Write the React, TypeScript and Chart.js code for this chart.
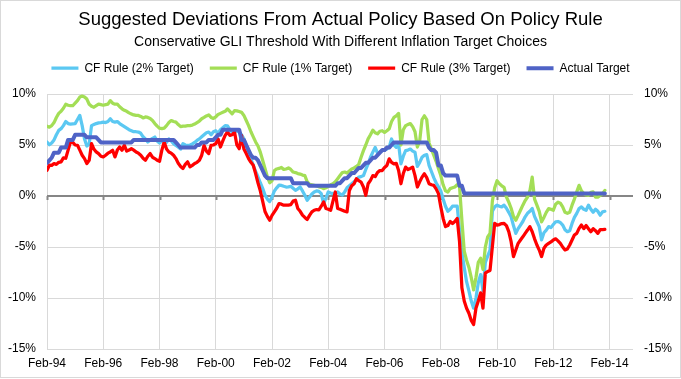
import { useEffect, useRef } from 'react';
import { Chart, registerables } from 'chart.js';

Chart.register(...registerables);

// Monthly observations, Feb-94 (index 0) through Dec-13
const tickLabels = ['Feb-94', 'Feb-96', 'Feb-98', 'Feb-00', 'Feb-02', 'Feb-04', 'Feb-06', 'Feb-08', 'Feb-10', 'Feb-12', 'Feb-14'];
const yTicks = [-15, -10, -5, 0, 5, 10];

const seriesNames = ['CF Rule (2% Target)', 'CF Rule (1% Target)', 'CF Rule (3% Target)', 'Actual Target'];

const cfRule2 = [
  5.3, 5.03, 5.2, 5.5, 6.0, 6.43, 6.6, 6.9, 7.3, 7.1, 7.05,
  7.08, 7.1, 7.5, 7.9, 6.9, 5.6, 4.9, 5.1, 6.9, 7.0, 7.1, 7.17,
  7.2, 7.24, 7.2, 7.3, 7.57, 7.3, 7.24, 7.3, 7.1, 6.95, 6.8, 6.65,
  6.5, 6.4, 6.3, 6.3, 6.27, 6.15, 5.8, 5.6, 5.3, 5.5, 5.65, 5.78,
  5.4, 5.2, 5.4, 5.35, 5.26, 5.6, 5.4, 5.13, 4.95, 4.8, 4.6, 5.13,
  5.0, 4.97, 5.0, 5.1, 5.25, 5.45, 5.6, 5.8, 6.0, 6.2, 6.27, 6.0,
  6.3, 6.4, 6.14, 6.5, 6.7, 6.9, 6.88, 6.5, 6.27, 6.45, 6.35, 6.27,
  6.0, 5.6, 4.9, 4.16, 3.6, 3.02, 2.4, 1.89, 1.3, 0.75, 0.1, -0.3,
  -0.55, -0.1, 0.5, 0.8, 1.07, 1.04, 0.95, 0.88, 0.9, 0.95, 0.75, 0.55,
  0.7, 0.88, 0.5, 0.07, -0.42, -0.1, 0.2, 0.4, 0.5, 0.45, 0.23, -0.74,
  -0.2, 0.4, 0.3, 0.23, 0.3, 0.4, 0.2, 0.1, 0.4, 0.8, 1.0, 1.2,
  1.4, 1.6, 1.85, 1.9, 2.0, 2.6, 3.15, 3.8, 4.3, 4.77, 4.2, 4.3,
  4.45, 4.5, 4.6, 4.8, 5.59, 5.0, 4.77, 5.1, 3.15, 3.9, 4.45, 4.5,
  4.6, 4.4, 4.3, 2.9, 3.3, 3.8, 4.0, 4.06, 3.0, 2.4, 1.8, 1.3,
  0.9, 0.5, -0.3, -1.0, -1.5, -1.3, -1.0, -1.0, -1.0, -3.34, -5.5, -7.0,
  -8.4, -9.3, -10.3, -11.0, -10.0, -8.5, -7.7, -9.3, -6.5, -5.9, -5.3, -1.5,
  -1.07, -0.9, -1.0, -1.07, -0.9, -1.2, -1.6, -2.04, -2.9, -3.66, -3.2, -2.85,
  -2.5, -2.04, -1.7, -1.5, -1.23, -2.0, -2.5, -3.0, -4.3, -3.6, -3.34, -3.0,
  -3.1, -2.8, -2.53, -2.5, -2.6, -2.85, -3.3, -3.5, -3.4, -2.69, -2.1, -1.7,
  -1.23, -1.07, -1.3, -1.4, -0.9, -1.3, -1.6, -1.3, -1.5, -1.88, -1.56, -1.5,
];

const cfRule1 = [
  6.85, 6.75, 6.9, 7.2, 7.7, 8.1, 8.3, 8.6, 9.0, 8.9, 8.85,
  8.85, 9.1, 9.35, 9.7, 9.8, 9.7, 9.5, 9.0, 8.8, 8.7, 8.85, 9.0,
  8.95, 8.9, 8.95, 9.0, 9.35, 9.1, 9.0, 9.0, 8.75, 8.55, 8.4, 8.3,
  8.15, 8.05, 7.95, 7.9, 7.9, 7.8, 7.65, 7.75, 7.7, 7.6, 7.4, 7.1,
  6.85, 6.65, 6.6, 6.65, 6.9, 7.2, 7.4, 7.3, 7.24, 7.0, 6.8, 6.85,
  6.85, 6.9, 6.9, 6.95, 7.05, 7.2, 7.35, 7.57, 7.7, 7.85, 7.95, 7.7,
  7.6, 7.75, 8.0, 8.1, 8.2, 8.3, 8.54, 8.3, 8.05, 8.37, 8.35, 8.28,
  8.2, 7.9, 7.4, 6.9, 6.3, 5.8, 5.3, 4.9, 4.3, 3.5, 2.7, 1.9,
  1.3, 1.5, 2.5, 2.65, 2.7, 2.8, 2.6, 2.65, 2.75, 2.6, 2.35, 2.3,
  2.2, 2.15, 2.05, 2.0, 1.4, 1.15, 1.1, 1.05, 1.0, 0.9, 0.85, 0.72,
  0.8, 0.95, 1.1, 1.2, 1.4, 1.7, 2.0, 2.3, 2.35, 2.25, 2.45, 2.65,
  2.75, 2.9, 3.1, 3.8, 4.45, 5.0, 5.6, 6.0, 6.45, 6.2, 6.1, 6.35,
  6.4, 6.23, 6.4, 6.6, 7.3, 7.7, 7.85, 8.1, 5.0, 6.5, 6.9, 7.0,
  7.1, 6.8, 6.3, 4.8, 5.4, 7.5, 7.86, 7.5, 5.2, 4.6, 4.0, 3.4,
  2.7, 2.0, 1.1, 0.5, 0.39, 0.72, 0.8, 0.88, 1.1, 0.9, -2.4, -5.4,
  -6.3, -7.0, -8.0, -9.2, -8.0, -6.5, -6.1, -7.2, -5.0, -4.0, -3.66, -0.5,
  0.8, 1.5, 1.2, 1.0, 0.85, -0.1, -0.6, -1.2, -2.0, -2.37, -1.9, -1.4,
  -0.9, -0.45, -0.1, 0.5, 1.85, -0.3, -0.9, -1.5, -2.53, -2.1, -1.6, -1.23,
  -1.3, -1.4, -0.8, -0.6, -0.7, -1.07, -1.6, -1.7, -1.6, -0.9, -0.3, 0.4,
  1.04, 0.5, 0.23, 0.1, 0.07, 0.35, 0.4, -0.1, -0.1, 0.05, 0.23, 0.55,
];

const cfRule3 = [
  2.53, 3.02, 3.0, 3.18, 3.1, 3.3, 3.35, 3.74, 3.7, 4.5, 5.3,
  5.25, 5.0, 4.97, 4.5, 4.0, 3.67, 3.18, 3.5, 5.13, 4.6, 4.32, 4.16,
  3.9, 3.83, 4.0, 4.2, 4.32, 4.48, 3.83, 4.5, 4.8, 4.48, 4.97, 4.4,
  4.5, 4.64, 4.5, 4.32, 4.2, 4.0, 3.7, 3.5, 3.9, 4.16, 3.8, 3.67,
  3.5, 3.4, 4.5, 5.3, 4.6, 4.32, 4.2, 4.0, 3.67, 3.2, 2.9, 2.7,
  3.1, 3.35, 2.86, 3.0, 3.18, 3.3, 3.5, 4.0, 4.97, 4.4, 4.16, 4.97,
  5.0, 5.13, 5.6, 4.8, 5.4, 5.94, 6.27, 5.94, 6.0, 6.27, 5.0, 4.64,
  5.94, 4.6, 4.16, 3.67, 3.3, 3.02, 2.2, 1.3, 0.5, -0.5, -1.52, -2.0,
  -2.37, -1.9, -1.55, -1.2, -0.74, -0.8, -0.9, -0.9, -0.9, -0.85, -0.5, -0.42,
  -1.23, -1.5, -1.88, -2.1, -2.3, -1.9, -1.56, -1.4, -1.33, -1.35, -1.0, -0.58,
  -1.23, -1.3, -1.4, -0.5, 0.39, -1.23, -1.3, -1.4, -1.5, -1.56, 0.55, 1.0,
  1.2, 1.69, 1.5, 1.36, 0.88, 0.07, 1.2, 1.53, 2.0, 1.9, 2.3, 2.5,
  2.5, 2.8, 3.0, 3.64, 3.3, 3.15, 3.2, 2.5, 1.2, 2.2, 2.83, 2.6,
  2.7, 2.83, 2.0, 0.88, 1.4, 1.85, 2.18, 1.8, 1.2, 1.1, 1.04, 0.7,
  0.23, -1.07, -2.2, -3.0, -2.9, -2.5, -2.7, -2.5, -2.2, -4.5, -9.0, -10.3,
  -11.0, -11.5, -12.2, -12.6, -11.0, -10.3, -9.5, -11.0, -7.56, -7.4, -7.3, -4.97,
  -2.69, -2.85, -2.8, -2.7, -2.69, -2.9, -3.5, -4.48, -5.94, -5.29, -4.64, -4.31,
  -4.0, -3.66, -3.34, -3.0, -3.5, -4.2, -4.8, -5.3, -5.94, -5.12, -4.8, -4.64,
  -4.5, -4.31, -4.2, -4.4, -4.64, -5.0, -5.29, -5.2, -4.8, -4.31, -3.83, -3.66,
  -3.17, -2.85, -3.2, -2.9, -3.2, -3.5, -3.2, -3.4, -3.66, -3.3, -3.3, -3.27,
];

const actualTarget = [
  3.25, 3.5, 3.75, 4.25, 4.25, 4.25, 4.75, 4.75, 4.75, 5.5, 5.5,
  5.5, 6.0, 6.0, 6.0, 6.0, 6.0, 5.75, 5.75, 5.75, 5.75, 5.75, 5.5,
  5.25, 5.25, 5.25, 5.25, 5.25, 5.25, 5.25, 5.25, 5.25, 5.25, 5.25, 5.25,
  5.25, 5.25, 5.5, 5.5, 5.5, 5.5, 5.5, 5.5, 5.5, 5.5, 5.5, 5.5,
  5.5, 5.5, 5.5, 5.5, 5.5, 5.5, 5.5, 5.5, 5.25, 5.0, 4.75, 4.75,
  4.75, 4.75, 4.75, 4.75, 4.75, 5.0, 5.0, 5.25, 5.25, 5.25, 5.5, 5.5,
  5.5, 5.75, 6.0, 6.0, 6.5, 6.5, 6.5, 6.5, 6.5, 6.5, 6.5, 6.5,
  5.5, 5.5, 5.0, 4.5, 4.0, 3.75, 3.75, 3.5, 3.0, 2.5, 2.0, 1.75,
  1.75, 1.75, 1.75, 1.75, 1.75, 1.75, 1.75, 1.75, 1.75, 1.75, 1.25, 1.25,
  1.25, 1.25, 1.25, 1.25, 1.25, 1.0, 1.0, 1.0, 1.0, 1.0, 1.0, 1.0,
  1.0, 1.0, 1.0, 1.0, 1.0, 1.25, 1.25, 1.5, 1.75, 1.75, 2.0, 2.25,
  2.25, 2.5, 2.75, 2.75, 3.0, 3.25, 3.25, 3.5, 3.75, 3.75, 4.0, 4.25,
  4.5, 4.5, 4.75, 4.75, 5.0, 5.25, 5.25, 5.25, 5.25, 5.25, 5.25, 5.25,
  5.25, 5.25, 5.25, 5.25, 5.25, 5.25, 5.25, 5.25, 4.75, 4.5, 4.5, 4.25,
  3.0, 3.0, 2.25, 2.0, 2.0, 2.0, 2.0, 2.0, 2.0, 1.0, 1.0, 0.25,
  0.25, 0.25, 0.25, 0.25, 0.25, 0.25, 0.25, 0.25, 0.25, 0.25, 0.25, 0.25,
  0.25, 0.25, 0.25, 0.25, 0.25, 0.25, 0.25, 0.25, 0.25, 0.25, 0.25, 0.25,
  0.25, 0.25, 0.25, 0.25, 0.25, 0.25, 0.25, 0.25, 0.25, 0.25, 0.25, 0.25,
  0.25, 0.25, 0.25, 0.25, 0.25, 0.25, 0.25, 0.25, 0.25, 0.25, 0.25, 0.25,
  0.25, 0.25, 0.25, 0.25, 0.25, 0.25, 0.25, 0.25, 0.25, 0.25, 0.25, 0.25,
];

const FONT = "'Liberation Sans', Arial, sans-serif";

export default function App() {
  const ref = useRef<HTMLCanvasElement>(null);

  useEffect(() => {
    if (!ref.current) return;
    const toPts = (arr: number[]) => arr.map((v, i) => ({ x: i, y: v }));

    const frame = {
      id: 'frame',
      afterDraw(chart: any) {
        const c = chart.ctx;
        c.save();
        c.strokeStyle = '#d9d9d9';
        c.lineWidth = 1;
        c.strokeRect(0.5, 0.5, chart.width - 1, chart.height - 2);
        c.restore();
      },
    };

    const zeroTicks = {
      id: 'zeroTicks',
      beforeDatasetsDraw(chart: any) {
        const c = chart.ctx;
        const xs = chart.scales.x;
        const y0 = chart.scales.y.getPixelForValue(0);
        c.save();
        c.strokeStyle = '#868686';
        c.lineWidth = 2;
        xs.ticks.forEach((t: any) => {
          const px = Math.round(xs.getPixelForValue(t.value)) + 0.5;
          c.beginPath();
          c.moveTo(px, y0);
          c.lineTo(px, y0 + 4);
          c.stroke();
        });
        c.restore();
      },
    };

    const common = {
      pointRadius: 0,
      pointHoverRadius: 0,
      tension: 0,
      fill: false,
      borderCapStyle: 'round' as const,
      borderJoinStyle: 'round' as const,
    };

    const chart = new Chart(ref.current, {
      type: 'line',
      data: {
        datasets: [
          { ...common, label: seriesNames[0], data: toPts(cfRule2), borderColor: '#5BC8F2', backgroundColor: '#5BC8F2', borderWidth: 3.25, order: 4 },
          { ...common, label: seriesNames[1], data: toPts(cfRule1), borderColor: '#A3DE56', backgroundColor: '#A3DE56', borderWidth: 3.25, order: 3 },
          { ...common, label: seriesNames[2], data: toPts(cfRule3), borderColor: '#FF0000', backgroundColor: '#FF0000', borderWidth: 3.25, order: 2 },
          { ...common, label: seriesNames[3], data: toPts(actualTarget), borderColor: '#4F63C6', backgroundColor: '#4F63C6', borderWidth: 4, order: 1 },
        ],
      },
      options: {
        responsive: true,
        maintainAspectRatio: false,
        animation: false,
        events: [],
        layout: { padding: 0 },
        plugins: {
          title: {
            display: true,
            text: 'Suggested Deviations From Actual Policy Based On Policy Rule',
            color: '#000',
            font: { family: FONT, size: 18.5, weight: 'normal', lineHeight: 1.2 },
            padding: { top: 9, bottom: 0 },
          },
          subtitle: {
            display: true,
            text: 'Conservative GLI Threshold With Different Inflation Target Choices',
            color: '#000',
            font: { family: FONT, size: 14, weight: 'normal', lineHeight: 0.6 },
            padding: { top: 6.6, bottom: 0 },
          },
          legend: {
            display: true,
            position: 'top',
            labels: {
              usePointStyle: true,
              pointStyle: 'line',
              pointStyleWidth: 27,
              boxHeight: 12,
              padding: 16,
              color: '#000',
              font: { family: FONT, size: 12 },
              sort: (a: any, b: any) => a.datasetIndex - b.datasetIndex,
            },
          },
          tooltip: { enabled: false },
        },
        scales: {
          x: {
            type: 'linear',
            position: 'bottom',
            min: 0,
            max: 250,
            afterBuildTicks: (s: any) => {
              s.ticks = tickLabels.map((_, k) => ({ value: k * 24 }));
            },
            afterFit: (s: any) => {
              s.height = 30;
            },
            grid: { color: '#d9d9d9', lineWidth: 1, drawTicks: false },
            border: { display: false },
            ticks: {
              autoSkip: false,
              maxRotation: 0,
              padding: 7,
              color: '#000',
              font: { family: FONT, size: 12 },
              callback: (v: any) => tickLabels[Math.round(Number(v) / 24)],
            },
          },
          pad: {
            type: 'linear',
            axis: 'x',
            position: 'top',
            display: true,
            afterFit: (s: any) => {
              s.height = 9.8;
            },
            grid: { display: false, drawTicks: false },
            border: { display: false },
            ticks: { display: false },
          },
          y: {
            type: 'linear',
            position: 'left',
            min: -15,
            max: 10,
            afterBuildTicks: (s: any) => {
              s.ticks = yTicks.map((v) => ({ value: v }));
            },
            afterFit: (s: any) => {
              s.width = 47;
            },
            grid: {
              color: (ctx: any) => (ctx.tick && ctx.tick.value === 0 ? '#868686' : '#d9d9d9'),
              lineWidth: (ctx: any) => (ctx.tick && ctx.tick.value === 0 ? 2 : 1),
              drawTicks: false,
            },
            border: { display: false },
            ticks: {
              padding: 11,
              color: '#000',
              font: { family: FONT, size: 12 },
              callback: (v: any) => `${v}%`,
            },
          },
          y1: {
            type: 'linear',
            position: 'right',
            min: -15,
            max: 10,
            afterBuildTicks: (s: any) => {
              s.ticks = yTicks.map((v) => ({ value: v }));
            },
            afterFit: (s: any) => {
              s.width = 48;
            },
            grid: { display: false, drawTicks: false },
            border: { display: false },
            ticks: {
              padding: 11,
              color: '#000',
              font: { family: FONT, size: 12 },
              callback: (v: any) => `${v}%`,
            },
          },
        },
      } as any,
      plugins: [frame, zeroTicks],
    });

    return () => chart.destroy();
  }, []);

  return (
    <div style={{ position: 'fixed', left: 0, top: 0, width: 681, height: 379, background: '#fff' }}>
      <canvas ref={ref} />
    </div>
  );
}
